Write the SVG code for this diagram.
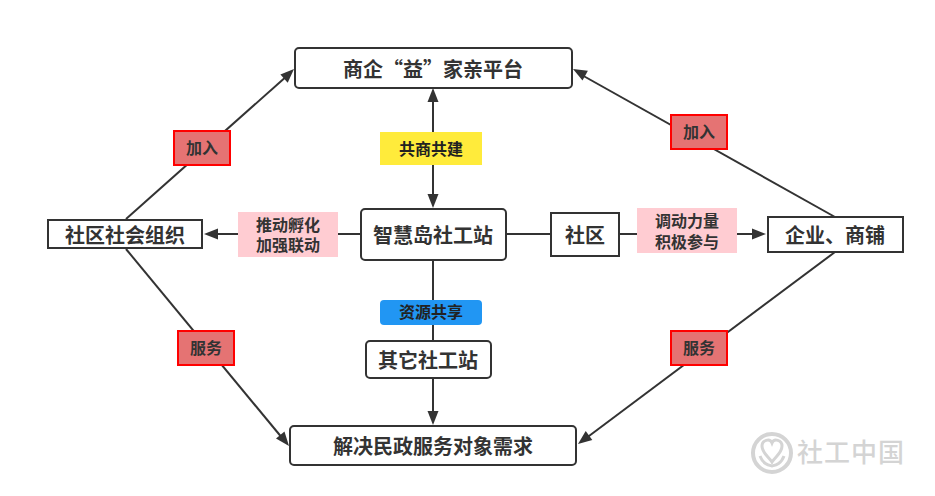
<svg xmlns="http://www.w3.org/2000/svg" width="935" height="496" viewBox="0 0 935 496">
<style>
text{font-family:"Noto Sans CJK SC","Liberation Sans",sans-serif;fill:#333;text-anchor:middle;font-weight:700}
.n{fill:#fff;stroke:#333;stroke-width:2}
.t{font-size:20px}
.s{font-size:16px}
.c line{stroke:#333;stroke-width:2}
.c path{fill:#333}
.red{fill:#e57373;stroke:#f00;stroke-width:2}
.pink{fill:#ffccd2}
</style>
<rect width="935" height="496" fill="#fff"/>
<g class="c" id="connectors">
<line x1="433" y1="132" x2="433" y2="96"/><path d="M433 88l5.500 14h-11z"/>
<line x1="433" y1="165" x2="433" y2="200"/><path d="M433 208l-5.500-14h11z"/>
<line x1="433" y1="261" x2="433" y2="340"/>
<line x1="433" y1="379" x2="433" y2="416"/><path d="M433 425l-5.500-14h11z"/>
<line x1="360" y1="234" x2="212" y2="234"/><path d="M204 234l14-5.500v11z"/>
<line x1="507" y1="234" x2="550" y2="234"/>
<line x1="620" y1="234" x2="758" y2="234"/><path d="M766 234l-14 5.500v-11z"/>
<line x1="126" y1="219" x2="288" y2="75"/><path d="M294 69l-6.300 13.700-7.300-8.200z"/>
<line x1="835" y1="217" x2="580" y2="74"/><path d="M573 69l14.900 1.800-5.400 9.600z"/>
<line x1="126" y1="249" x2="283" y2="439"/><path d="M289 446l-13-7.400 8.500-7z"/>
<line x1="835" y1="252" x2="585" y2="439"/><path d="M578 444l7.700-12.900 6.600 8.800z"/>
</g>
<g id="platform"><rect class="n" x="295" y="48" width="277" height="40" rx="4"/><text class="t" x="433" y="77">商企“益”家亲平台</text></g>
<g id="station"><rect class="n" x="361" y="209" width="145" height="51" rx="4"/><text class="t" x="433" y="243">智慧岛社工站</text></g>
<g id="org"><rect class="n" x="48" y="220" width="154" height="28"/><text class="t" x="125" y="243">社区社会组织</text></g>
<g id="community"><rect class="n" x="551" y="213" width="68" height="43"/><text class="t" x="585" y="243">社区</text></g>
<g id="business"><rect class="n" x="768" y="217" width="135" height="35"/><text class="t" x="835" y="243">企业、商铺</text></g>
<g id="other"><rect class="n" x="366" y="341" width="125" height="37" rx="4"/><text class="t" x="428" y="368">其它社工站</text></g>
<g id="demand"><rect class="n" x="290" y="426" width="286" height="39" rx="4"/><text class="t" x="433" y="454">解决民政服务对象需求</text></g>
<g id="label-join-left"><rect class="red" x="174" y="131" width="56" height="34"/><text class="s" x="202" y="154">加入</text></g>
<g id="label-join-right"><rect class="red" x="671" y="115" width="56" height="34"/><text class="s" x="699" y="138">加入</text></g>
<g id="label-serve-left"><rect class="red" x="178" y="331" width="56" height="34"/><text class="s" x="206" y="354">服务</text></g>
<g id="label-serve-right"><rect class="red" x="671" y="331" width="56" height="34"/><text class="s" x="699" y="354">服务</text></g>
<g id="label-build"><rect x="380" y="132" width="102" height="33" fill="#ffeb3b"/><text class="s" x="431" y="155" style="fill:#222">共商共建</text></g>
<g id="label-share"><rect x="380" y="300" width="102" height="25" rx="4" fill="#2196f3"/><text class="s" x="431" y="318" style="fill:#222">资源共享</text></g>
<g id="label-incubate"><rect class="pink" x="238" y="212" width="100" height="45"/><text class="s" x="288" y="231">推动孵化</text><text class="s" x="288" y="251">加强联动</text></g>
<g id="label-mobilize"><rect class="pink" x="637" y="208" width="100" height="45"/><text class="s" x="687" y="227">调动力量</text><text class="s" x="687" y="248">积极参与</text></g>
<g id="watermark">
<circle cx="772" cy="453" r="19" fill="none" stroke="#d4d4d4" stroke-width="4"/>
<path d="M772 462c-3-5-10-9-10-16c0-6 8-8 10-3c2-5 10-3 10 3c0 7-7 11-10 16z" fill="none" stroke="#d4d4d4" stroke-width="3"/>
<path d="M760 456c3 8 8 9 12 10c4-1 9-2 12-10" fill="none" stroke="#d4d4d4" stroke-width="3"/>
<text x="851" y="462" style="fill:#d4d4d4;font-size:26px;font-weight:500;letter-spacing:1px">社工中国</text>
</g>
</svg>
